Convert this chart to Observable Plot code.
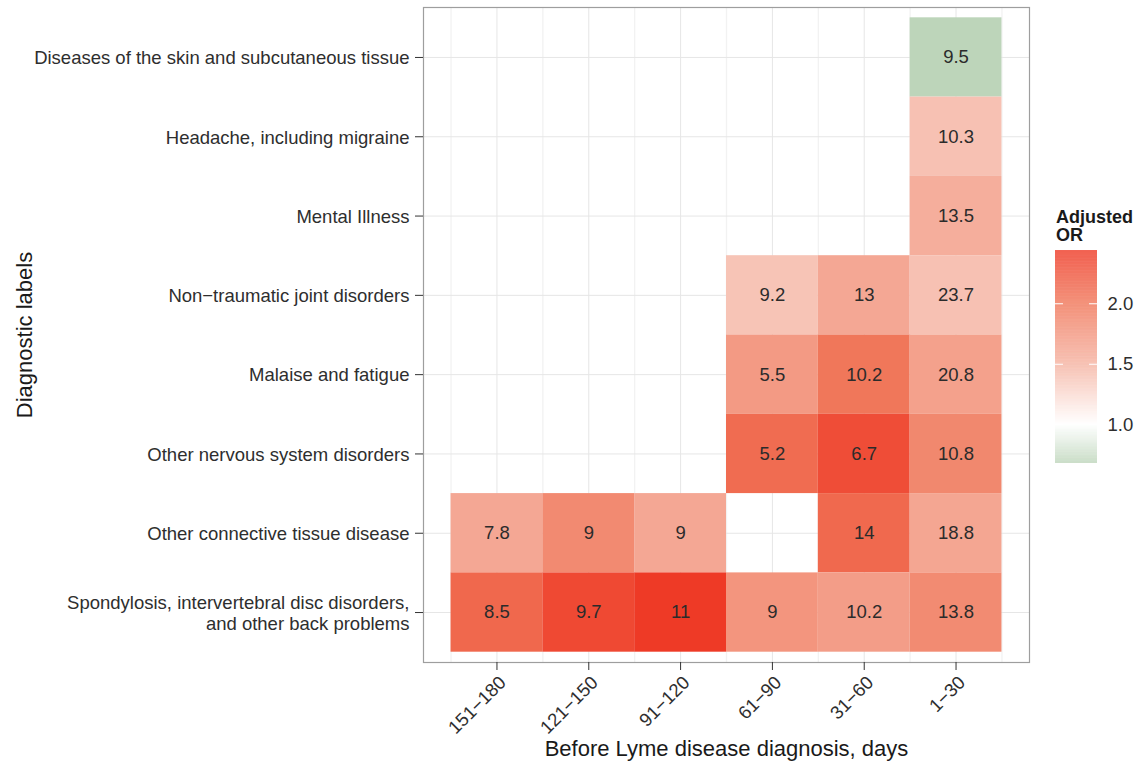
<!DOCTYPE html>
<html>
<head>
<meta charset="utf-8">
<script src="https://cdn.jsdelivr.net/npm/d3@7"></script>
<script src="https://cdn.jsdelivr.net/npm/@observablehq/plot@0.6"></script>
<style>
  html, body { margin: 0; padding: 0; background: white; }
  #wrap { position: relative; width: 1136px; height: 763px; font-family: "Liberation Sans", Arial, Helvetica, sans-serif; }
  #main { position: absolute; left: 0; top: 0; }
  #legendTitle { position: absolute; left: 1056px; top: 208px; font-size: 18px; line-height: 18px; font-weight: bold; color: #1a1a1a; }
  #legend { position: absolute; left: 1040px; top: 240px; }
</style>
</head>
<body>
<div id="wrap">
  <div id="main"></div>
  <div id="legendTitle">Adjusted<br>OR</div>
  <div id="legend"></div>
</div>
<script>
// ---- Data ----
const periods = ["151−180", "121−150", "91−120", "61−90", "31−60", "1−30"];
const diagnoses = [
  "Diseases of the skin and subcutaneous tissue",
  "Headache, including migraine",
  "Mental Illness",
  "Non−traumatic joint disorders",
  "Malaise and fatigue",
  "Other nervous system disorders",
  "Other connective tissue disease",
  "Spondylosis, intervertebral disc disorders,\nand other back problems"
];
// Adjusted OR (fill), rows = diagnoses (top to bottom), columns = periods
const adjustedOR = [
  [null, null, null, null, null, 0.68],
  [null, null, null, null, null, 1.41],
  [null, null, null, null, null, 1.54],
  [null, null, null, 1.39, 1.60, 1.41],
  [null, null, null, 1.71, 2.00, 1.65],
  [null, null, null, 2.08, 2.30, 1.86],
  [1.60, 1.84, 1.60, null, 2.10, 1.61],
  [2.11, 2.33, 2.44, 1.75, 1.68, 1.83]
];
// Text printed in each cell
const cellText = [
  [null, null, null, null, null, "9.5"],
  [null, null, null, null, null, "10.3"],
  [null, null, null, null, null, "13.5"],
  [null, null, null, "9.2", "13", "23.7"],
  [null, null, null, "5.5", "10.2", "20.8"],
  [null, null, null, "5.2", "6.7", "10.8"],
  ["7.8", "9", "9", null, "14", "18.8"],
  ["8.5", "9.7", "11", "9", "10.2", "13.8"]
];
const legendTicks = [1.0, 1.5, 2.0];
const colorStops = [0.68, 1.0, 1.5, 2.0, 2.44];
const colorRange = ["#BDD5BA", "#FFFFFF", "#F5B3A2", "#F0775A", "#EE3A26"];

// ---- Build table ----
const nRows = diagnoses.length;
const cells = [];
adjustedOR.forEach((row, r) => row.forEach((v, c) => {
  if (v != null) cells.push({x: c + 1, y: nRows - r, or: v, label: cellText[r][c]});
}));

const colorScale = {type: "linear", domain: colorStops, range: colorRange, interpolate: "rgb"};
const font = "'Liberation Sans', Arial, Helvetica, sans-serif";
const xMajor = d3.range(1, periods.length + 1);
const xMinor = d3.range(0.5, periods.length + 1, 1);
const yMajor = d3.range(1, nRows + 1);

const chart = Plot.plot({
  width: 1136,
  height: 763,
  marginLeft: 423,
  marginRight: 107,
  marginTop: 7,
  marginBottom: 101,
  style: {fontFamily: font, fontSize: "18px", color: "#2e2e2e", background: "white", overflow: "visible"},
  x: {type: "linear", domain: [0.2, periods.length + 0.8]},
  y: {type: "linear", domain: [0.37, nRows + 0.63]},
  color: colorScale,
  marks: [
    Plot.ruleX(xMinor, {x: d => d, stroke: "#F2F2F2", strokeWidth: 1.3}),
    Plot.ruleX(xMajor, {x: d => d, stroke: "#E6E6E6", strokeWidth: 1}),
    Plot.ruleY(yMajor, {y: d => d, stroke: "#E6E6E6", strokeWidth: 1}),
    Plot.rect(cells, {x1: d => d.x - 0.5, x2: d => d.x + 0.5, y1: d => d.y - 0.5, y2: d => d.y + 0.5, fill: "or"}),
    Plot.text(cells, {x: "x", y: "y", text: "label", fontSize: 18.5, fill: "#2b2b2b"}),
    Plot.frame({stroke: "#9E9E9E", strokeWidth: 1.2}),
    // tick marks
    Plot.axisX(xMajor, {tickFormat: () => "", tickSize: 8, label: null, stroke: "#333"}),
    // rotated tick labels
    Plot.axisX(xMajor, {tickFormat: i => periods[i - 1], tickRotate: -45, tickSize: 0, tickPadding: 12, dx: 6, dy: 5, fontSize: 18.5, label: null}),
    Plot.axisY(yMajor, {tickFormat: i => diagnoses[nRows - i], tickSize: 8, tickPadding: 6, fontSize: 18.5, lineHeight: 1.15, label: null, stroke: "#333"}),
    Plot.text(["Before Lyme disease diagnosis, days"], {frameAnchor: "bottom", text: d => d, dy: 86, textAnchor: "middle", lineAnchor: "middle", fontSize: 22, fill: "#1a1a1a"}),
    Plot.text(["Diagnostic labels"], {frameAnchor: "left", text: d => d, dx: -399, rotate: -90, textAnchor: "middle", lineAnchor: "middle", fontSize: 22, fill: "#1a1a1a"})
  ]
});
document.getElementById("main").appendChild(chart);

// ---- Legend (vertical colour bar) ----
const lo = colorStops[0], hi = colorStops[colorStops.length - 1];
const steps = d3.range(lo, hi, 0.005);
const legend = Plot.plot({
  width: 96,
  height: 233,
  marginTop: 10,
  marginBottom: 10,
  marginLeft: 15,
  marginRight: 39,
  style: {fontFamily: font, fontSize: "18px", color: "#2e2e2e", background: "transparent", overflow: "visible"},
  x: {domain: [0, 1], axis: null},
  y: {domain: [lo, hi]},
  color: colorScale,
  marks: [
    Plot.rect(steps, {x1: 0, x2: 1, y1: d => d, y2: d => Math.min(hi, d + 0.0055), fill: d => d + 0.0025}),
    Plot.ruleY(legendTicks, {y: d => d, x1: 0, x2: 0.19, stroke: "white", strokeWidth: 1}),
    Plot.ruleY(legendTicks, {y: d => d, x1: 0.81, x2: 1, stroke: "white", strokeWidth: 1}),
    Plot.axisY(legendTicks, {anchor: "right", tickSize: 0, tickPadding: 10, tickFormat: d3.format(".1f"), fontSize: 18.5, label: null})
  ]
});
document.getElementById("legend").appendChild(legend);
</script>
</body>
</html>
